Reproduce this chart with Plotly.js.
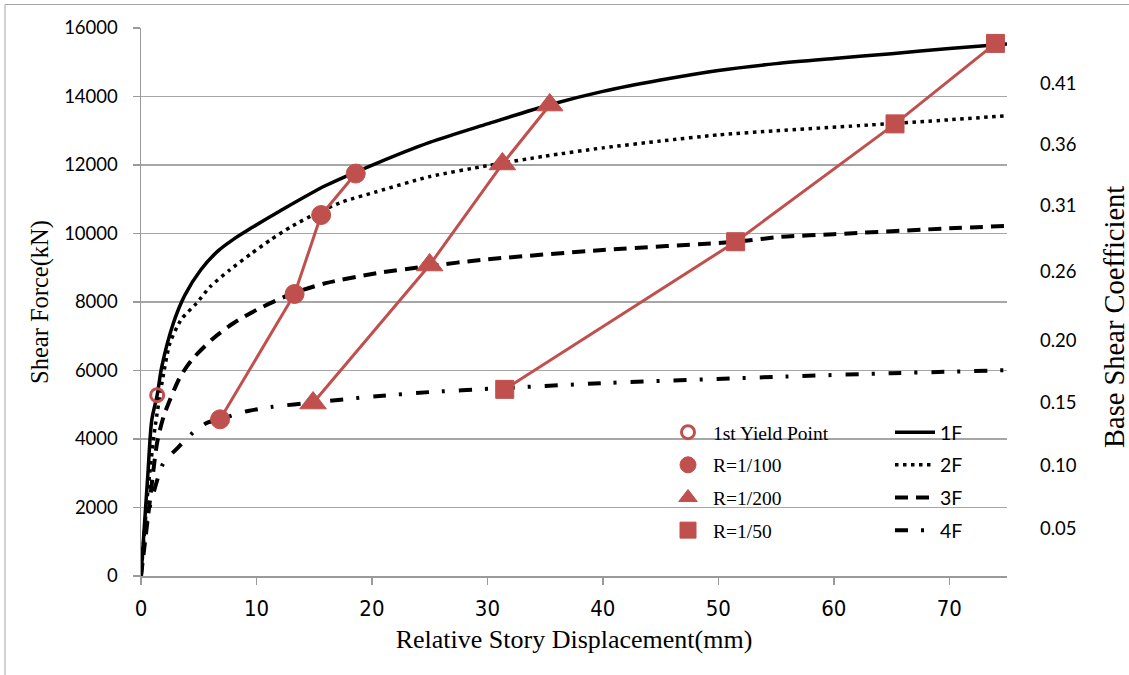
<!DOCTYPE html>
<html>
<head>
<meta charset="utf-8">
<script src="https://cdn.plot.ly/plotly-3.0.1.min.js"></script>
<style>html,body{margin:0;padding:0;background:#fff;}#chart{width:1129px;height:675px;}</style>
</head>
<body>
<div id="chart"></div>
<script>
// ---- Data ----
const f1X = [0, 0.3, 0.6, 0.93, 1.4, 1.8, 2.8, 3.8, 5.2, 6.7, 8, 9.5, 12, 16, 20.4, 25, 30, 35.4, 40, 45, 50, 55, 60, 65, 70, 75];
const f1Y = [0, 1500, 3000, 4550, 5280, 6110, 7380, 8200, 8950, 9500, 9830, 10150, 10650, 11400, 12050, 12660, 13200, 13760, 14150, 14480, 14760, 14960, 15110, 15250, 15400, 15530];

const f2X = [0, 0.6, 1.2, 1.9, 2.5, 3.5, 4.8, 6, 7.7, 9.5, 11.2, 13, 15.2, 17.5, 20.4, 25, 30, 35, 40, 45, 50, 55, 62.3, 70, 75];
const f2Y = [0, 2500, 4300, 5800, 6800, 7500, 7960, 8450, 8940, 9400, 9810, 10200, 10590, 10930, 11220, 11660, 11980, 12260, 12500, 12700, 12880, 13000, 13150, 13320, 13440];

const f3X = [0, 0.7, 1.4, 2.0, 3.4, 4.5, 6.3, 8, 10, 13.2, 16, 20.4, 25, 29.4, 40, 51.5, 55.4, 60, 70, 75];
const f3Y = [0, 2000, 3900, 4700, 5820, 6350, 6950, 7380, 7770, 8260, 8550, 8840, 9050, 9226, 9520, 9760, 9900, 9980, 10150, 10220];

const f4X = [0, 0.4, 0.8, 1.9, 3.2, 4.5, 5.7, 6.9, 9, 11.4, 15, 20.4, 25, 30.4, 40, 55.4, 65, 75];
const f4Y = [0, 1500, 2070, 3270, 3750, 4185, 4470, 4580, 4800, 4940, 5070, 5250, 5370, 5470, 5630, 5820, 5920, 6010];

const yieldX = [1.4];
const yieldY = [5280];

const r100X = [6.85, 13.3, 15.6, 18.6];
const r100Y = [4575, 8234, 10540, 11750];

const r200X = [14.9, 25.0, 31.3, 35.4];
const r200Y = [5050, 9080, 12030, 13750];

const r50X = [31.5, 51.5, 65.3, 74.0];
const r50Y = [5450, 9760, 13200, 15550];

// right axis (Base Shear Coefficient) labels and their positions on the force scale
const coefLabels = ["0.41", "0.36", "0.31", "0.26", "0.20", "0.15", "0.10", "0.05"];
const coefAtForce = [14365, 12584, 10815, 8890, 6876, 5051, 3226, 1401];

const xTicks = [0, 10, 20, 30, 40, 50, 60, 70];
const yTicks = [0, 2000, 4000, 6000, 8000, 10000, 12000, 14000, 16000];

// ---- Styling ----
const RED = '#C0504D';
const tickFont = {family: 'Lato, "Open Sans", sans-serif', size: 18.5, color: '#000'};
const serif = '"Liberation Serif", "Times New Roman", serif';

const traces = [
  {x: f1X, y: f1Y, name: '1F', mode: 'lines', line: {color: '#000', width: 3.5, shape: 'spline', smoothing: 0.8}, legend: 'legend2', legendgroup: 'a', legendrank: 1},
  {x: f2X, y: f2Y, name: '2F', mode: 'lines', line: {color: '#000', width: 3.5, dash: '3.5px,4.5px', shape: 'spline', smoothing: 0.6}, legend: 'legend2', legendgroup: 'b', legendrank: 2},
  {x: f3X, y: f3Y, name: '3F', mode: 'lines', line: {color: '#000', width: 4, dash: '13px,8px', shape: 'spline', smoothing: 0.7}, legend: 'legend2', legendgroup: 'c', legendrank: 3},
  {x: f4X, y: f4Y, name: '4F', mode: 'lines', line: {color: '#000', width: 4, dash: '13px,13px,3px,14px', shape: 'spline', smoothing: 0.6}, legend: 'legend2', legendgroup: 'd', legendrank: 4},
  {x: r100X, y: r100Y, mode: 'lines', line: {color: RED, width: 3}, showlegend: false, hoverinfo: 'skip'},
  {x: r200X, y: r200Y, mode: 'lines', line: {color: RED, width: 3}, showlegend: false, hoverinfo: 'skip'},
  {x: r50X, y: r50Y, mode: 'lines', line: {color: RED, width: 3}, showlegend: false, hoverinfo: 'skip'},
  {x: yieldX, y: yieldY, name: '1st Yield Point', mode: 'markers', marker: {symbol: 'circle-open', size: 13, color: RED, line: {color: RED, width: 3}}, legendgroup: 'e', legendrank: 1},
  {x: r100X, y: r100Y, name: 'R=1/100', mode: 'markers', marker: {symbol: 'circle', size: 19, color: RED, line: {color: RED, width: 1}}, legendgroup: 'f', legendrank: 2},
  {x: r200X, y: r200Y, name: 'R=1/200', mode: 'markers', marker: {symbol: 'triangle-up', size: 23, color: RED, line: {color: RED, width: 1}}, legendgroup: 'g', legendrank: 3},
  {x: r50X, y: r50Y, name: 'R=1/50', mode: 'markers', marker: {symbol: 'square', size: 18, color: RED, line: {color: RED, width: 1}}, legendgroup: 'h', legendrank: 4},
  // invisible trace to carry the right axis
  {x: [0], y: [0], yaxis: 'y2', mode: 'markers', marker: {opacity: 0}, showlegend: false, hoverinfo: 'skip'}
];

const px = v => (v - 141) / 866;
const py = v => (576 - v) / 548;

const layout = {
  width: 1129, height: 675,
  margin: {l: 141, r: 122, t: 28, b: 99},
  paper_bgcolor: '#fff', plot_bgcolor: '#fff',
  showlegend: true,
  xaxis: {
    range: [0, 75], tickvals: xTicks, ticktext: xTicks.map(String),
    showgrid: false, zeroline: false, showline: true, linecolor: '#9a9a9a', linewidth: 1.5,
    ticks: 'outside', ticklen: 7, tickcolor: '#9a9a9a', tickwidth: 1.5,
    tickfont: {family: '"Liberation Sans Narrow", "DejaVu Sans Condensed", sans-serif', size: 22, color: '#000'},
    ticklabelstandoff: 5,
    title: {text: 'Relative Story Displacement(mm)', font: {family: serif, size: 26, color: '#000'}, standoff: 10}
  },
  yaxis: {
    range: [0, 16000], tickvals: yTicks, ticktext: yTicks.map(String),
    showgrid: true, gridcolor: '#a6a6a6', gridwidth: 1.5, zeroline: false,
    showline: true, linecolor: '#9a9a9a', linewidth: 1.5,
    ticks: 'outside', ticklen: 7, tickcolor: '#9a9a9a', tickwidth: 1.5,
    tickfont: tickFont, ticklabelstandoff: 11,
    title: {text: 'Shear Force(kN)', font: {family: serif, size: 24.5, color: '#000'}, standoff: 8}
  },
  yaxis2: {
    overlaying: 'y', side: 'right', range: [0, 16000],
    tickvals: coefAtForce, ticktext: coefLabels,
    showgrid: false, zeroline: false, showline: false, ticks: '',
    tickfont: tickFont, ticklabelstandoff: 32
  },
  annotations: [
    {text: 'Base Shear Coefficient', xref: 'paper', yref: 'paper', x: px(1114), y: py(317),
     xanchor: 'center', yanchor: 'middle', textangle: -90, showarrow: false,
     font: {family: serif, size: 28.5, color: '#000'}}
  ],
  legend: {
    x: px(663), y: py(413), xanchor: 'left', yanchor: 'top',
    bgcolor: 'rgba(0,0,0,0)', borderwidth: 0,
    font: {family: serif, size: 19.5, color: '#000'},
    tracegroupgap: 4.3, traceorder: 'grouped', itemwidth: 40
  },
  legend2: {
    x: px(890), y: py(413), xanchor: 'left', yanchor: 'top',
    bgcolor: 'rgba(0,0,0,0)', borderwidth: 0,
    font: {family: 'Lato, "Open Sans", sans-serif', size: 19.5, color: '#000'},
    tracegroupgap: 4.3, traceorder: 'grouped', itemwidth: 40
  },
  shapes: [
    {type: 'line', xref: 'paper', yref: 'paper', x0: px(5), x1: px(1129), y0: py(4.5), y1: py(4.5), line: {color: '#a6a6a6', width: 1}},
    {type: 'line', xref: 'paper', yref: 'paper', x0: px(5), x1: px(5), y0: py(4.5), y1: py(675), line: {color: '#a6a6a6', width: 1}}
  ]
};

Plotly.newPlot('chart', traces, layout, {displayModeBar: false, staticPlot: true});
</script>
</body>
</html>
